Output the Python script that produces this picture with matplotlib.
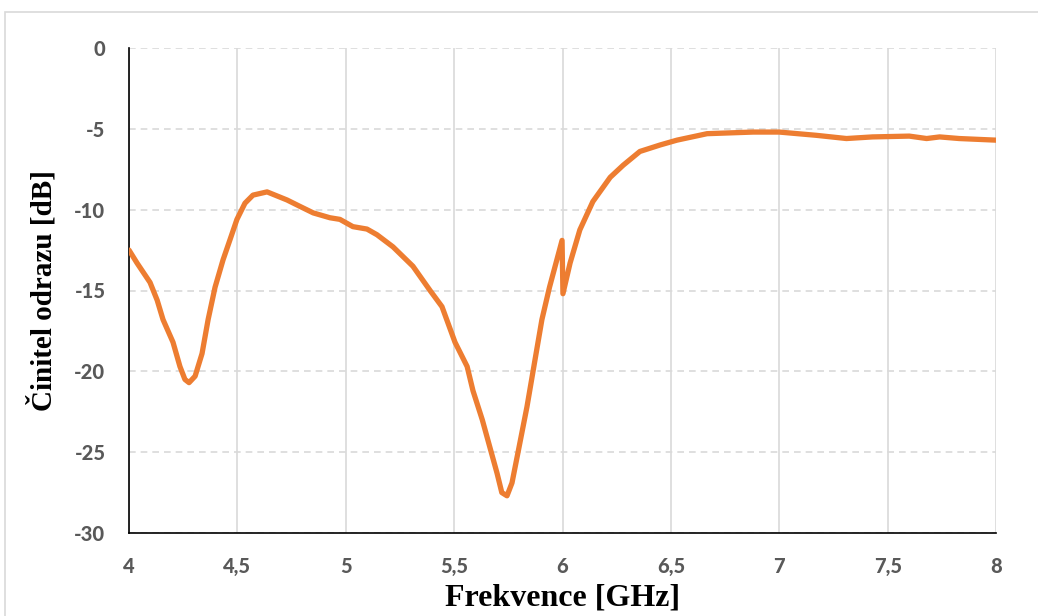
import matplotlib
matplotlib.use("Agg")
import matplotlib.pyplot as plt
from matplotlib.patches import Rectangle
from matplotlib.ticker import FuncFormatter

# frequency [GHz] and reflection coefficient [dB]
freq = [4.0, 4.037, 4.097, 4.13, 4.157, 4.203, 4.235, 4.258, 4.277, 4.305,
        4.337, 4.365, 4.397, 4.434, 4.47, 4.498, 4.535, 4.572, 4.637, 4.729,
        4.789, 4.85, 4.927, 4.973, 5.033, 5.098, 5.144, 5.218, 5.31, 5.389,
        5.444, 5.504, 5.56, 5.587, 5.63, 5.665, 5.698, 5.72, 5.744, 5.767,
        5.795, 5.836, 5.873, 5.905, 5.94, 5.998, 6.002, 6.035, 6.08, 6.14,
        6.22, 6.28, 6.357, 6.45, 6.528, 6.667, 6.88, 7.0, 7.17, 7.31, 7.43,
        7.6, 7.68, 7.74, 7.83, 8.0]
s11 = [-12.5, -13.3, -14.5, -15.6, -16.8, -18.2, -19.7, -20.5, -20.7, -20.3,
       -18.9, -16.8, -14.8, -13.1, -11.7, -10.6, -9.6, -9.1, -8.9, -9.4,
       -9.8, -10.2, -10.5, -10.6, -11.05, -11.2, -11.55, -12.3, -13.5, -15.0,
       -16.0, -18.2, -19.7, -21.2, -23.0, -24.7, -26.3, -27.5, -27.7, -26.9,
       -25.0, -22.2, -19.3, -16.8, -14.8, -11.9, -15.2, -13.3, -11.25, -9.5,
       -8.0, -7.25, -6.4, -6.0, -5.7, -5.3, -5.2, -5.2, -5.4, -5.6, -5.5,
       -5.45, -5.6, -5.5, -5.6, -5.7]

xticks = [4, 4.5, 5, 5.5, 6, 6.5, 7, 7.5, 8]
yticks = [0, -5, -10, -15, -20, -25, -30]

fig = plt.figure(figsize=(10.38, 6.16), dpi=100)
fig.patches.append(Rectangle((5 / 1038, -0.1), 1.2, 1.1 - 12 / 616,
                             transform=fig.transFigure, fill=False,
                             edgecolor="#d9d9d9", linewidth=1.2))
ax = fig.add_axes([129 / 1038, 1 - 533 / 616, 867 / 1038, 485 / 616])

ax.plot(freq, s11, color="#ED7D31", linewidth=3.8, solid_capstyle="round",
        solid_joinstyle="round", zorder=3)

ax.set_xlim(4, 8)
ax.set_ylim(-30, 0)
ax.set_xticks(xticks)
ax.set_yticks(yticks)
fmt = FuncFormatter(lambda v, p: ("%g" % v).replace(".", ","))
ax.xaxis.set_major_formatter(fmt)
ax.yaxis.set_major_formatter(fmt)

ax.grid(axis="x", color="#d9d9d9", linewidth=1.2)
ax.grid(axis="y", color="#d9d9d9", linewidth=1.2, linestyle=(0, (4, 3)))
ax.set_axisbelow(True)

for s in ["top", "right"]:
    ax.spines[s].set_visible(False)
for s in ["left", "bottom"]:
    ax.spines[s].set_color("black")
    ax.spines[s].set_linewidth(1.2)
ax.tick_params(length=0)
ax.tick_params(axis="x", pad=17)
ax.tick_params(axis="y", pad=17)

for lab in ax.get_xticklabels() + ax.get_yticklabels():
    lab.set_fontfamily(["Lato", "DejaVu Sans"])
    lab.set_fontweight("black")
    lab.set_fontsize(14.5)
    lab.set_color("#595959")

ax.set_xlabel("Frekvence [GHz]", labelpad=6, family=["Liberation Serif", "DejaVu Serif"],
              weight="bold", size=23)
ax.set_ylabel("Činitel odrazu [dB]", labelpad=12, family=["Liberation Serif", "DejaVu Serif"],
              weight="bold", size=21)

plt.savefig("out.png", dpi=100)
